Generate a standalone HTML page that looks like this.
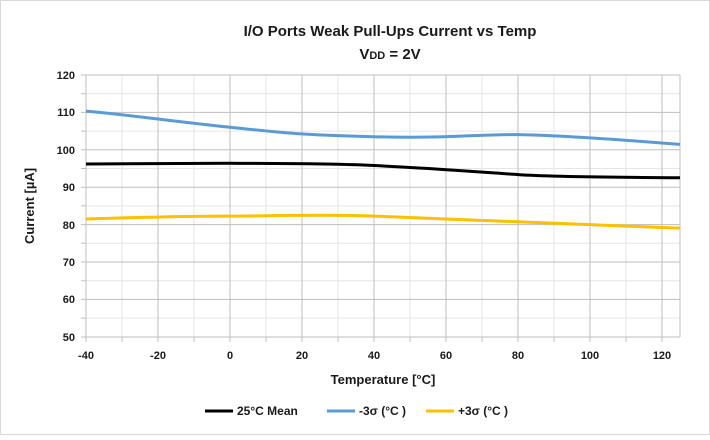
<!DOCTYPE html>
<html><head><style>body{margin:0;background:#fff}</style></head><body>
<svg width="710" height="435" viewBox="0 0 710 435" xmlns="http://www.w3.org/2000/svg" font-family="Liberation Sans, sans-serif">
<rect x="0.5" y="0.5" width="709" height="434" fill="#fff" stroke="#d9d9d9"/>
<text x="390" y="36" text-anchor="middle" font-size="15" font-weight="bold" fill="#1a1a1a">I/O Ports Weak Pull-Ups  Current vs Temp</text>
<text x="390" y="59" text-anchor="middle" font-size="15" font-weight="bold" fill="#1a1a1a">V<tspan font-size="11">DD</tspan> = 2V</text>
<g stroke="#e6e6e6" stroke-width="1" fill="none">
<path d="M122 75V337M194 75V337M266 75V337M338 75V337M410 75V337M482 75V337M554 75V337M626 75V337"/>
<path d="M86 93.7H680M86 131.1H680M86 168.5H680M86 205.9H680M86 243.3H680M86 280.7H680M86 318.1H680"/>
</g>
<g stroke="#bfbfbf" stroke-width="1" fill="none">
<path d="M158 75V337M230 75V337M302 75V337M374 75V337M446 75V337M518 75V337M590 75V337M662 75V337M680 75V337"/>
<path d="M86 75H680M86 112.4H680M86 149.8H680M86 187.2H680M86 224.6H680M86 262H680M86 299.4H680"/>
<path d="M86 75V337H680"/>
<path d="M81 75H86M81 93.7H86M81 112.4H86M81 131.1H86M81 149.8H86M81 168.5H86M81 187.2H86M81 205.9H86M81 224.6H86M81 243.3H86M81 262H86M81 280.7H86M81 299.4H86M81 318.1H86M81 337H86"/>
<path d="M86 337V342M122 337V342M158 337V342M194 337V342M230 337V342M266 337V342M302 337V342M338 337V342M374 337V342M410 337V342M446 337V342M482 337V342M518 337V342M554 337V342M590 337V342M626 337V342M662 337V342"/>
</g>
<g font-size="11" font-weight="bold" fill="#1a1a1a" text-anchor="end">
<text x="75" y="79">120</text><text x="75" y="116">110</text><text x="75" y="154">100</text><text x="75" y="191">90</text><text x="75" y="229">80</text><text x="75" y="266">70</text><text x="75" y="303">60</text><text x="75" y="341">50</text>
</g>
<g font-size="11" font-weight="bold" fill="#1a1a1a" text-anchor="middle">
<text x="86" y="359">-40</text><text x="158" y="359">-20</text><text x="230" y="359">0</text><text x="302" y="359">20</text><text x="374" y="359">40</text><text x="446" y="359">60</text><text x="518" y="359">80</text><text x="590" y="359">100</text><text x="662" y="359">120</text>
</g>
<text x="383" y="384" text-anchor="middle" font-size="13" font-weight="bold" fill="#1a1a1a">Temperature [°C]</text>
<text transform="translate(34 206) rotate(-90)" text-anchor="middle" font-size="13" font-weight="bold" fill="#1a1a1a">Current [µA]</text>
<g fill="none" stroke-width="3" stroke-linejoin="round">
<path stroke="#5b9bd5" d="M86 111.1C130 115 170 121 230 127.3S300 134.6 374 136.7S480 134 518 134.6S600 138 680 144.4"/>
<path stroke="#000" d="M86 164.0C150 164 200 163 230 163.3S320 163 374 165.5S480 172 518 174.6S620 177 680 177.8"/>
<path stroke="#ffc000" d="M86 219.0C150 217 200 216 230 216.1S320 214 374 216.1S480 220 518 221.8S620 226 680 228.1"/>
</g>
<g font-size="12" font-weight="bold" fill="#1a1a1a">
<line x1="205" y1="411" x2="233" y2="411" stroke="#000" stroke-width="3"/><text x="237" y="415">25°C Mean</text>
<line x1="327" y1="411" x2="355" y2="411" stroke="#5b9bd5" stroke-width="3"/><text x="359" y="415">-3σ (°C )</text>
<line x1="426" y1="411" x2="454" y2="411" stroke="#ffc000" stroke-width="3"/><text x="458" y="415">+3σ (°C )</text>
</g>
</svg>
</body></html>
